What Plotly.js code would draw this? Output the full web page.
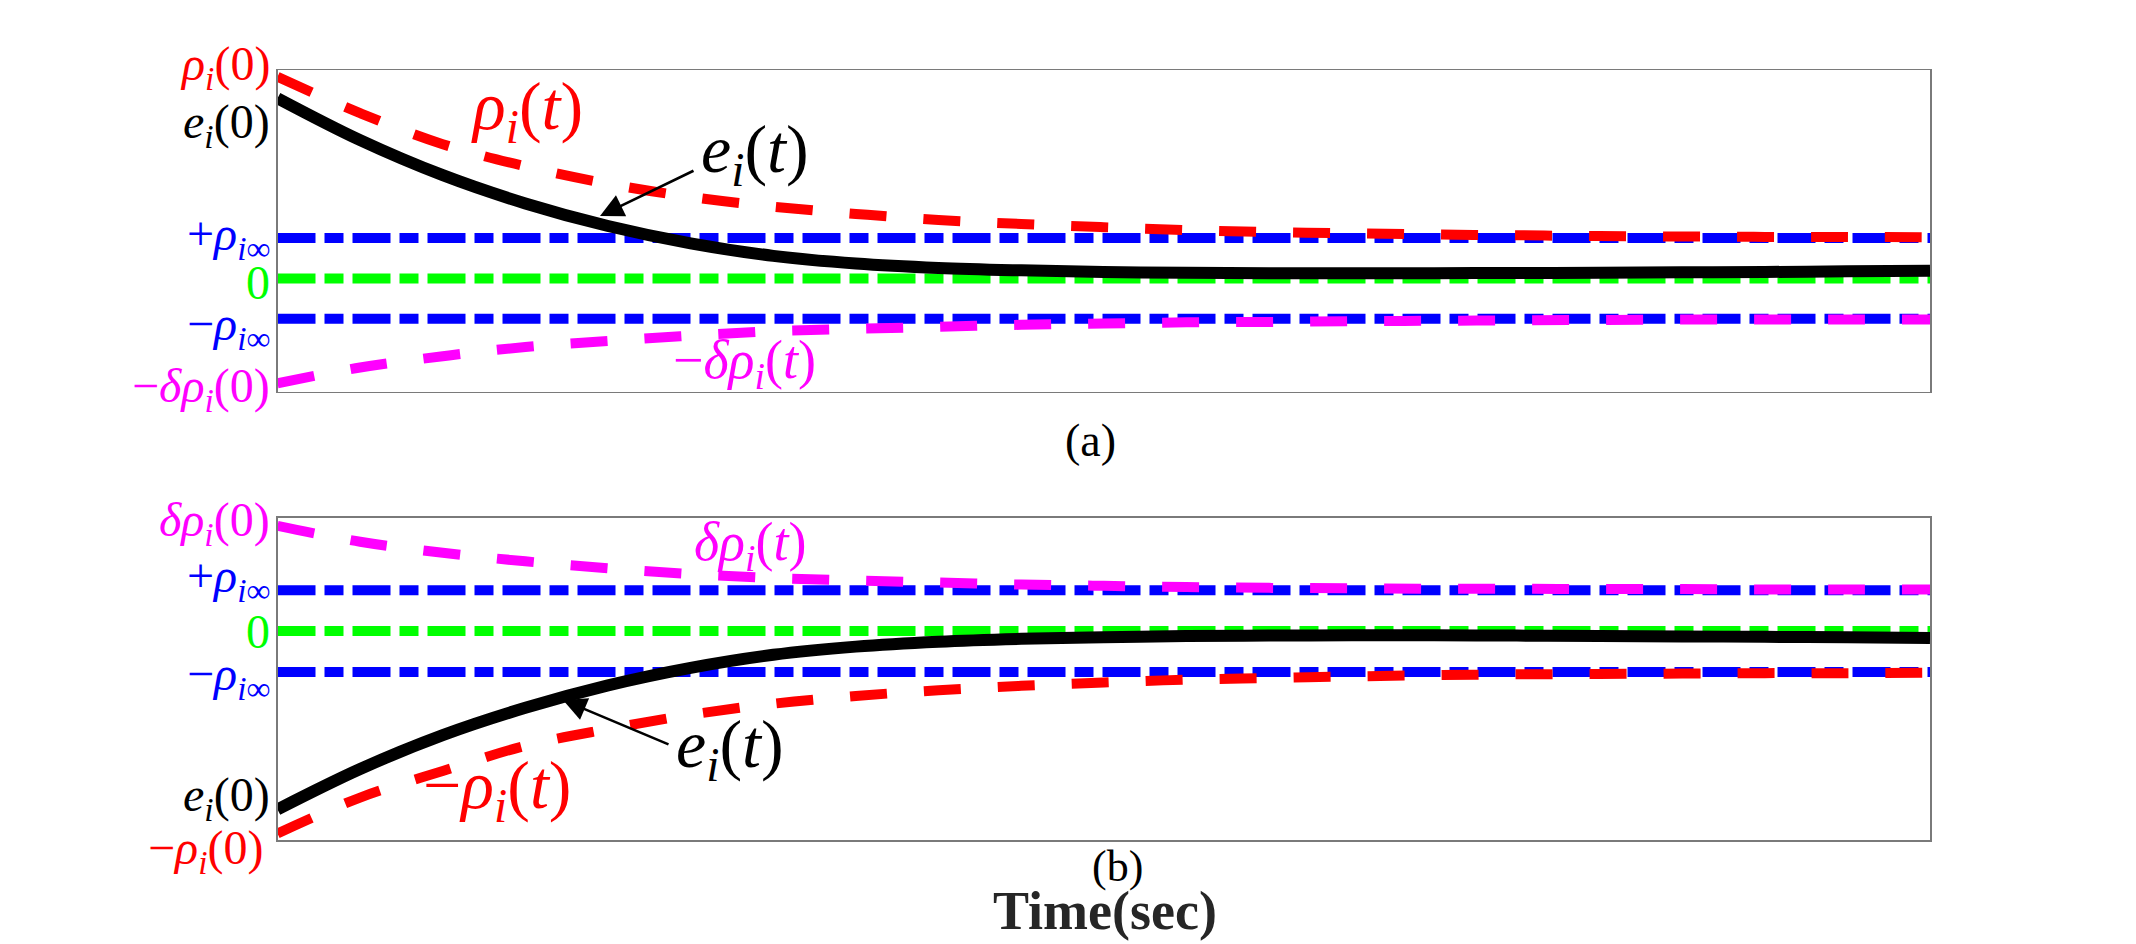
<!DOCTYPE html>
<html><head><meta charset="utf-8">
<script src="https://cdn.plot.ly/plotly-3.0.1.min.js"></script>
<style>html,body{margin:0;padding:0;background:#fff;}</style>
</head><body><div id="chart" style="width:2136px;height:944px;"></div>
<script>
// ---- data ----
const time = [0,0.5,1,1.5,2,2.5,3,3.5,4,4.5,5,5.5,6,6.5,7,7.5,8,8.5,9,9.5,10];
// panel (a)
const rhoA = [5.00,4.10,3.33,2.78,2.35,2.02,1.78,1.60,1.45,1.35,1.27,1.20,1.15,1.12,1.09,1.07,1.05,1.04,1.03,1.03,1.02];
const errA = [4.47,3.43,2.56,1.86,1.30,0.87,0.56,0.37,0.26,0.20,0.16,0.14,0.13,0.13,0.13,0.135,0.14,0.15,0.16,0.175,0.19];
const negDeltaRhoA = [-2.60,-2.21,-1.93,-1.70,-1.55,-1.42,-1.31,-1.25,-1.20,-1.15,-1.12,-1.09,-1.08,-1.06,-1.05,-1.04,-1.03,-1.02,-1.02,-1.02,-1.02];
// panel (b)
const deltaRhoB = [2.58,2.19,1.92,1.71,1.54,1.40,1.30,1.24,1.19,1.14,1.11,1.08,1.06,1.05,1.04,1.04,1.03,1.03,1.02,1.02,1.02];
const errB = [-4.37,-3.38,-2.55,-1.88,-1.33,-0.90,-0.58,-0.38,-0.26,-0.19,-0.15,-0.12,-0.11,-0.10,-0.10,-0.11,-0.12,-0.13,-0.14,-0.15,-0.17];
const negRhoB = [-4.96,-4.08,-3.43,-2.81,-2.40,-2.05,-1.78,-1.59,-1.45,-1.34,-1.26,-1.19,-1.15,-1.11,-1.08,-1.06,-1.05,-1.04,-1.03,-1.03,-1.02];
// bounds
const rhoInf = 1;
const zeroLevel = 0;
const timeSpan = [0, 10];

// tick-style labels
const R = '<i>ρ</i><sub><i>i</i></sub>';
const Rinf = '<i>ρ</i><sub><i>i</i>∞</sub>';
const E = '<i>e</i><sub><i>i</i></sub>';
const tickLabelsA = [R+'(0)', E+'(0)', '+'+Rinf, '0', '−'+Rinf, '−<i>δ</i>'+R+'(0)'];
const tickLabelsB = ['<i>δ</i>'+R+'(0)', '+'+Rinf, '0', '−'+Rinf, E+'(0)', '−'+R+'(0)'];
const curveLabelsA = [R+'(<i>t</i>)', E+'(<i>t</i>)', '−<i>δ</i>'+R+'(<i>t</i>)'];
const curveLabelsB = ['<i>δ</i>'+R+'(<i>t</i>)', E+'(<i>t</i>)', '−'+R+'(<i>t</i>)'];
const panelLabels = ['(a)', '(b)'];
const xTitle = '<b>Time(sec)</b>';

// ---- styling ----
const W = 2136, H = 944;
const FONT = 'Liberation Serif, Times New Roman, serif';
const RED = '#ff0000', BLUE = '#0000ff', GREEN = '#00ff00', MAG = '#ff00ff', BLK = '#000000';
const DASH = '37px,37px';
const DASHDOT = '38px,9px,19px,9px';
const px = v => v / W, py = v => 1 - v / H;

function flat(val, ax, color, dash) {
  return {x: timeSpan, y: [val, val], xaxis: ax[0], yaxis: ax[1], mode: 'lines',
          line: {color: color, width: 10, dash: dash}, hoverinfo: 'skip', showlegend: false};
}
function curve(ys, ax, color, width, dash) {
  return {x: time, y: ys, xaxis: ax[0], yaxis: ax[1], mode: 'lines',
          line: {color: color, width: width, dash: dash, shape: 'spline', smoothing: 1},
          hoverinfo: 'skip', showlegend: false};
}
const A = ['x', 'y'], B = ['x2', 'y2'];
const traces = [
  flat(rhoInf, A, BLUE, DASHDOT), flat(-rhoInf, A, BLUE, DASHDOT), flat(zeroLevel, A, GREEN, DASHDOT),
  curve(rhoA, A, RED, 10, DASH), curve(negDeltaRhoA, A, MAG, 10, DASH), curve(errA, A, BLK, 12, 'solid'),
  flat(rhoInf, B, BLUE, DASHDOT), flat(-rhoInf, B, BLUE, DASHDOT), flat(zeroLevel, B, GREEN, DASHDOT),
  curve(deltaRhoB, B, MAG, 10, DASH), curve(negRhoB, B, RED, 10, DASH), curve(errB, B, BLK, 12, 'solid')
];

function txt(text, xp, yp, size, color, xanchor, yanchor) {
  return {text: text, x: px(xp), y: py(yp), xref: 'paper', yref: 'paper', showarrow: false,
          xanchor: xanchor || 'center', yanchor: yanchor || 'middle', font: {family: FONT, size: size, color: color}};
}
function arrow(hx, hy, tx, ty) {
  return {text: '', x: px(hx), y: py(hy), xref: 'paper', yref: 'paper', showarrow: true,
          ax: tx - hx, ay: ty - hy, arrowhead: 2, arrowsize: 1.8, arrowwidth: 2.6, arrowcolor: BLK,
          standoff: 0, startstandoff: 0};
}
const tickYA = [67, 125, 237, 282, 327, 389];
const tickColA = [RED, BLK, BLUE, GREEN, BLUE, MAG];
const tickYB = [523, 579, 631, 677, 798, 851];
const tickColB = [MAG, BLUE, GREEN, BLUE, BLK, RED];
const annotations = [];
tickLabelsA.forEach((t, i) => annotations.push(txt(t, 272, tickYA[i], 48, tickColA[i], 'right')));
tickLabelsB.forEach((t, i) => annotations.push(txt(t, i === 5 ? 265 : 272, tickYB[i], 48, tickColB[i], 'right')));
annotations.push(txt(curveLabelsA[0], 527, 111, 68, RED));
annotations.push(txt(curveLabelsA[1], 755, 153, 68, BLK));
annotations.push(txt(curveLabelsA[2], 744, 363, 54, MAG));
annotations.push(txt(panelLabels[0], 1090, 440, 46, BLK));
annotations.push(txt(curveLabelsB[0], 750, 545, 54, MAG));
annotations.push(txt(curveLabelsB[1], 730, 748, 68, BLK));
annotations.push(txt(curveLabelsB[2], 497, 789, 68, RED));
annotations.push(txt(panelLabels[1], 1117, 866, 44, BLK));
annotations.push(txt(xTitle, 1105, 943, 54, '#262626', 'center', 'bottom'));
annotations.push(arrow(600, 216, 695, 170));
annotations.push(arrow(563, 700, 670, 745));

const axX = (anchor) => ({domain: [px(277.5), px(1930)], range: timeSpan, anchor: anchor,
  showline: true, mirror: true, linecolor: '#7a7a7a', linewidth: 1.5, showgrid: false,
  zeroline: false, showticklabels: false, ticks: ''});
const axY = (domain, range, anchor) => ({domain: domain, range: range, anchor: anchor,
  showline: true, mirror: true, linecolor: '#7a7a7a', linewidth: 1.5, showgrid: false,
  zeroline: false, showticklabels: false, ticks: ''});

const layout = {
  width: W, height: H, autosize: false,
  margin: {l: 0, r: 0, t: 0, b: 0, pad: 0},
  paper_bgcolor: '#ffffff', plot_bgcolor: '#ffffff',
  showlegend: false,
  xaxis: axX('y'),
  yaxis: axY([py(391.7), py(70)], [-2.81, 5.17], 'x'),
  xaxis2: axX('y2'),
  yaxis2: axY([py(840), py(517.7)], [-5.12, 2.78], 'x2'),
  annotations: annotations
};
Plotly.newPlot('chart', traces, layout, {staticPlot: true, displayModeBar: false});
</script></body></html>
